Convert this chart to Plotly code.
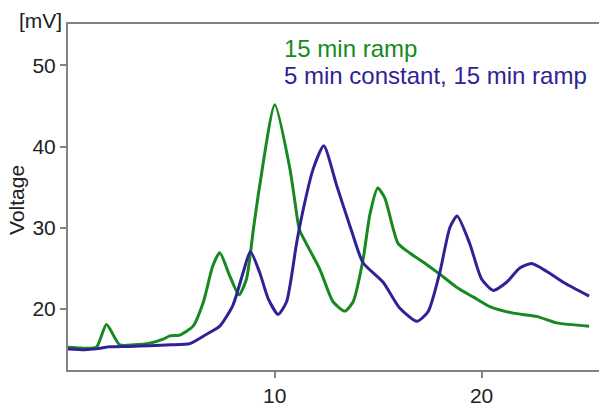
import plotly.graph_objects as go

# Retention time (min) and detector voltage (mV) for the two gradient programs
t_ramp = [0.0, 0.6, 1.37, 1.86, 2.5, 3.2, 3.95, 4.6, 4.92, 5.4, 6.05, 6.55, 7.0, 7.34,
          7.82, 8.27, 8.63, 8.98, 9.27, 10.0, 10.73, 11.13, 11.21, 12.18, 12.82, 13.39,
          13.79, 14.27, 14.6, 14.98, 15.32, 15.96, 16.53, 17.34, 17.98, 18.79, 19.59,
          20.4, 21.53, 22.66, 23.63, 25.2]
v_ramp = [15.3, 15.2, 15.3, 18.1, 15.6, 15.6, 15.8, 16.3, 16.7, 16.8, 17.9, 20.9, 25.3,
          26.95, 24.1, 21.75, 23.7, 30.1, 35.2, 45.15, 37.3, 30.5, 29.65, 24.9, 20.9,
          19.75, 20.9, 26.1, 31.65, 34.9, 33.7, 28.1, 26.9, 25.5, 24.3, 22.7, 21.5, 20.3,
          19.5, 19.1, 18.3, 17.9]

t_const = [0.0, 0.8, 1.37, 2.0, 3.0, 3.95, 5.0, 5.89, 6.7, 7.34, 7.98, 8.47, 8.82, 9.27,
           9.68, 10.16, 10.57, 11.05, 11.29, 11.85, 12.37, 12.99, 13.71, 14.27, 15.24,
           16.05, 16.88, 17.42, 17.98, 18.47, 18.82, 19.43, 20.0, 20.56, 21.21, 21.85,
           22.42, 23.14, 23.95, 25.2]
v_const = [15.1, 15.0, 15.1, 15.35, 15.4, 15.5, 15.6, 15.75, 16.9, 17.9, 20.5, 24.5,
           27.1, 24.5, 21.3, 19.35, 20.9, 28.05, 31.25, 37.2, 40.1, 35.25, 29.65, 25.7,
           23.3, 20.1, 18.5, 19.7, 24.5, 30.05, 31.45, 28.05, 23.7, 22.3, 23.3, 25.05,
           25.6, 24.65, 23.3, 21.6]

series_names = ["15 min ramp", "5 min constant, 15 min ramp"]
series_colors = ["rgb(22,138,32)", "rgb(48,34,150)"]

x_ticks = [10, 20]
y_ticks = [20, 30, 40, 50]

FONT = "Liberation Sans, Arial, sans-serif"
AXIS_GRAY = "rgb(130,130,130)"

fig = go.Figure()
for t, v, name, color in [(t_ramp, v_ramp, series_names[0], series_colors[0]),
                          (t_const, v_const, series_names[1], series_colors[1])]:
    fig.add_trace(go.Scatter(
        x=t, y=v, mode="lines", name=name,
        line=dict(color=color, width=3, shape="spline", smoothing=0.6),
        showlegend=False,
    ))

fig.update_layout(
    width=599, height=407,
    margin=dict(l=68, r=0, t=24, b=27),
    paper_bgcolor="white", plot_bgcolor="white",
    font=dict(family=FONT, size=21, color="#222"),
)
fig.update_xaxes(
    range=[0, 25.68], tickvals=x_ticks, ticks="outside", ticklen=6, tickwidth=2,
    tickcolor=AXIS_GRAY, showline=True, linecolor=AXIS_GRAY, linewidth=2,
    mirror=True, showgrid=False, zeroline=False,
)
fig.update_yaxes(
    range=[12.5, 55.1], tickvals=y_ticks, ticks="outside", ticklen=6, tickwidth=2,
    tickcolor=AXIS_GRAY, showline=True, linecolor=AXIS_GRAY, linewidth=2,
    showgrid=False, zeroline=False,
)

# Unit label, axis title and series labels
fig.add_annotation(text="[mV]", xref="paper", yref="paper", x=-0.008, y=1.01,
                   xanchor="right", yanchor="middle", showarrow=False,
                   font=dict(size=21))
fig.add_annotation(text="Voltage", xref="paper", yref="paper", x=-0.096, y=0.4916,
                   xanchor="center", yanchor="middle", textangle=-90, showarrow=False,
                   font=dict(size=21))
for i, (name, color) in enumerate(zip(series_names, series_colors)):
    fig.add_annotation(text=name, xref="paper", yref="paper", x=0.403,
                       y=[0.93, 0.852][i], xanchor="left", yanchor="middle",
                       showarrow=False, font=dict(size=24, color=color))

fig.write_html("out.html")
